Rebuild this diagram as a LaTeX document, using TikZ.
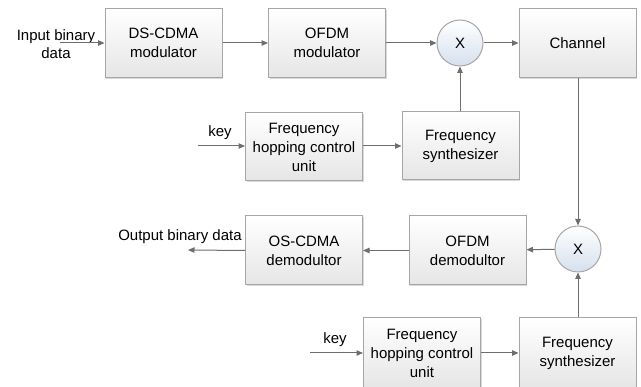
\documentclass[tikz,border=0pt]{standalone}
\usepackage{fontspec}
\setmainfont{Liberation Sans}
\usetikzlibrary{arrows.meta,shadows}
\definecolor{boxline}{HTML}{A6A6A6}
\definecolor{arrowc}{HTML}{6E6E6E}
\definecolor{circfill}{HTML}{D5E0EE}
\begin{document}
\begin{tikzpicture}[x=1pt,y=-1pt,
  blk/.style={draw=boxline, line width=1pt, top color=white, bottom color=black!10,
    minimum width=117pt, minimum height=69pt, align=center, inner sep=0pt,
    font=\fontsize{15}{19}\selectfont,
    drop shadow={shadow xshift=1pt, shadow yshift=-1.2pt, fill=black!25, opacity=0.6}},
  mult/.style={circle, draw=boxline, line width=1pt, top color=white, bottom color=circfill,
    minimum size=46pt, inner sep=0pt, font=\fontsize{15}{18}\selectfont},
  lbl/.style={align=center, inner sep=0pt, font=\fontsize{15}{18}\selectfont},
  arr/.style={draw=arrowc, line width=1pt, -{Triangle[length=6.5pt,width=5.5pt]}}]
\useasboundingbox (0,0) rectangle (641,387);
\clip (0,0) rectangle (641,387);
\node[blk] (ds) at (163.5,43) {DS-CDMA\\modulator};
\node[blk] (ofdm) at (327,43) {OFDM\\modulator};
\node[mult] (x1) at (460,43) {X};
\node[blk] (ch) at (577.5,43) {Channel};
\node[blk, minimum height=68pt] (fh1) at (304,147) {Frequency\\hopping control\\unit};
\node[blk, minimum height=68pt] (fs1) at (460.5,146) {Frequency\\synthesizer};
\node[mult] (x2) at (578,249) {X};
\node[blk] (od) at (467.5,250.5) {OFDM\\demodultor};
\node[blk] (os) at (304,250.5) {OS-CDMA\\demodultor};
\node[blk, minimum height=70pt] (fh2) at (422,353) {Frequency\\hopping control\\unit};
\node[blk, minimum height=70pt] (fs2) at (577.5,353) {Frequency\\synthesizer};
\node[lbl] (in) at (56,44) {Input binary\\data};
\node[lbl] (k1) at (220,133) {key};
\node[lbl] (k2) at (335,340) {key};
\node[lbl] (out) at (180,237) {Output binary data};
\coordinate (inS) at (60,43);
\coordinate (k1S) at (198,146);
\coordinate (k2S) at (310,353);
\coordinate (outE) at (188,250);
\draw[arr] (inS) -- (ds.west);
\draw[arr] (ds) -- (ofdm);
\draw[arr] (ofdm) -- (x1);
\draw[arr] (x1) -- (ch);
\draw[arr] (fs1.north -| x1) -- (x1.south);
\draw[arr] (k1S) -- (k1S -| fh1.west);
\draw[arr] (fh1.east |- k1S) -- (fs1.west |- k1S);
\draw[arr] (ch.south -| x2) -- (x2.north);
\draw[arr] (x2) -- (od);
\draw[arr] (od) -- (os);
\draw[arr] (os.west) -- (outE);
\draw[arr] (k2S) -- (fh2.west);
\draw[arr] (fh2) -- (fs2);
\draw[arr] (fs2.north -| x2) -- (x2.south);
\end{tikzpicture}
\end{document}
